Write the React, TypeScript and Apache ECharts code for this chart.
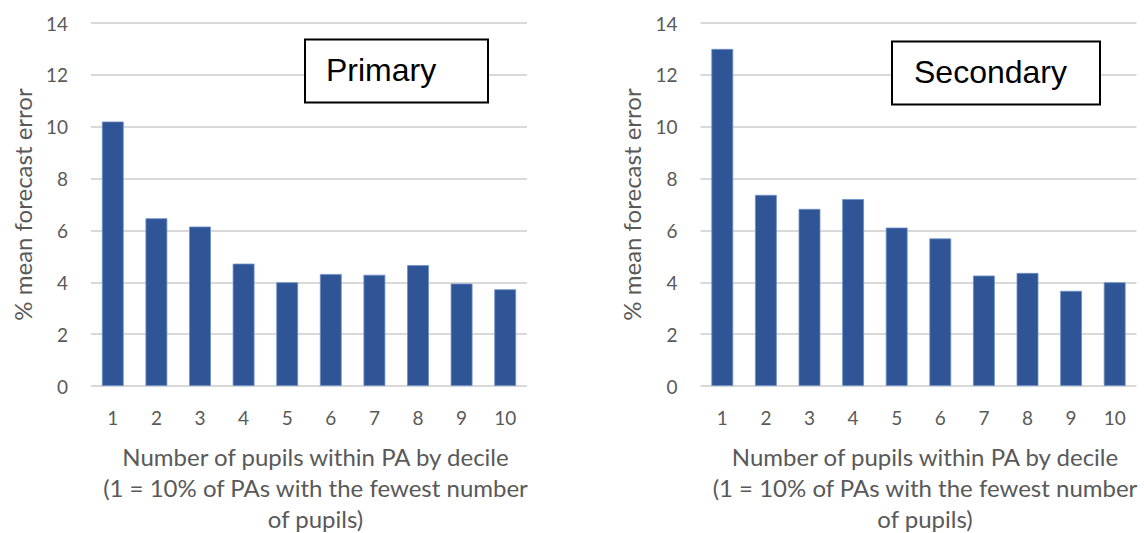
import React, { useEffect, useRef } from "react";
import * as echarts from "echarts";

const deciles = ["1", "2", "3", "4", "5", "6", "7", "8", "9", "10"];
const primaryValues = [10.2, 6.47, 6.15, 4.72, 4.0, 4.32, 4.29, 4.66, 3.95, 3.73];
const secondaryValues = [13.0, 7.37, 6.83, 7.21, 6.11, 5.69, 4.26, 4.36, 3.67, 4.0];
const panelLabels = ["Primary", "Secondary"];
const yAxisTitle = "% mean forecast error";
const xAxisTitle =
  "Number of pupils within PA by decile\n(1 = 10% of PAs with the fewest number\nof pupils)";

const FONT = "Lato, 'Open Sans', sans-serif";
const GREY = "#595959";
const BAR = "#2F5597";

export default function App() {
  const ref = useRef<HTMLDivElement>(null);

  useEffect(() => {
    if (!ref.current) return;
    const chart = echarts.init(ref.current, null, { renderer: "svg" });

    const grids = [
      { left: 91, top: 23, width: 436, height: 363, containLabel: false, outerBoundsMode: "none" },
      { left: 700.5, top: 23, width: 436, height: 363, containLabel: false, outerBoundsMode: "none" },
    ];

    const xAxes = grids.map((_, i) => ({
      type: "category",
      gridIndex: i,
      data: deciles,
      axisLine: { show: false },
      axisTick: { show: false },
      axisLabel: { color: GREY, fontSize: 19, fontFamily: FONT, margin: 22 },
      name: xAxisTitle,
      nameLocation: "middle",
      nameGap: 55,
      nameTextStyle: {
        color: GREY,
        fontSize: 24,
        fontFamily: FONT,
        lineHeight: 31,
        align: "center",
        verticalAlign: "top",
        padding: [0, 0, 0, 13],
      },
    }));

    const yAxes = grids.map((_, i) => ({
      type: "value",
      gridIndex: i,
      min: 0,
      max: 14,
      interval: 2,
      axisLine: { show: false },
      axisTick: { show: false },
      splitLine: { lineStyle: { color: "#d9d9d9", width: 2 } },
      axisLabel: { color: GREY, fontSize: 19, fontFamily: FONT, margin: 23 },
      name: yAxisTitle,
      nameLocation: "middle",
      nameGap: 57,
      nameTextStyle: { color: GREY, fontSize: 24, fontFamily: FONT },
    }));

    const seriesData = [primaryValues, secondaryValues];

    const boxes = [
      { x: 305, y: 39.5, w: 183, h: 63, tx: 326, ty: 70 },
      { x: 892, y: 41.5, w: 208, h: 63, tx: 914, ty: 72 },
    ];

    chart.setOption({
      animation: false,
      backgroundColor: "#ffffff",
      grid: grids,
      xAxis: xAxes,
      yAxis: yAxes,
      series: seriesData.map((d, i) => ({
        type: "bar",
        xAxisIndex: i,
        yAxisIndex: i,
        data: d,
        barCategoryGap: "50%",
        itemStyle: { color: BAR, borderColor: "#6f8fc8", borderWidth: 0.8 },
      })),
      graphic: boxes.flatMap((b, i) => [
        {
          type: "rect",
          shape: { x: b.x, y: b.y, width: b.w, height: b.h },
          style: { fill: "#ffffff", stroke: "#000000", lineWidth: 2 },
          z: 10,
        },
        {
          type: "text",
          x: b.tx,
          y: b.ty,
          style: {
            text: panelLabels[i],
            fill: "#000000",
            font: "32px 'Liberation Sans', Arial, sans-serif",
            textAlign: "left",
            textVerticalAlign: "middle",
          },
          z: 11,
        },
      ]),
    });

    return () => chart.dispose();
  }, []);

  return (
    <div
      ref={ref}
      style={{ position: "absolute", left: 0, top: 0, width: 1144, height: 533 }}
    />
  );
}
